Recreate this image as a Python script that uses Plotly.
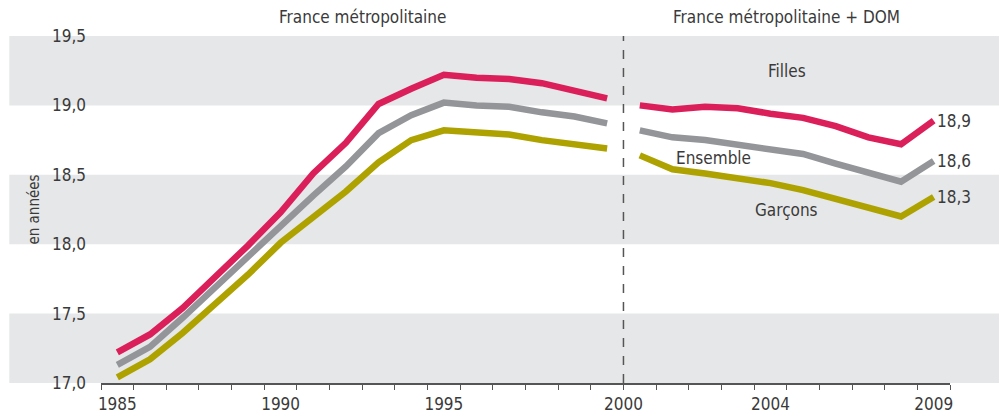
import plotly.graph_objects as go

# ---- data ----
years_metro = list(range(1985, 2001))            # France métropolitaine
years_dom = list(range(2000, 2010))              # France métropolitaine + DOM

filles_metro = [17.22, 17.35, 17.54, 17.76, 17.99, 18.23, 18.51, 18.73, 19.01, 19.12,
                19.22, 19.20, 19.19, 19.16, 19.11, 19.05]
ensemble_metro = [17.13, 17.26, 17.47, 17.69, 17.92, 18.13, 18.35, 18.56, 18.80, 18.93,
                  19.02, 19.00, 18.99, 18.95, 18.92, 18.87]
garcons_metro = [17.04, 17.17, 17.36, 17.57, 17.78, 18.01, 18.20, 18.38, 18.59, 18.75,
                 18.82, 18.80, 18.79, 18.75, 18.72, 18.69]

filles_dom = [19.00, 18.97, 18.99, 18.98, 18.94, 18.91, 18.85, 18.77, 18.72, 18.89]
ensemble_dom = [18.82, 18.77, 18.75, 18.72, 18.68, 18.65, 18.58, 18.51, 18.45, 18.60]
garcons_dom = [18.64, 18.54, 18.51, 18.48, 18.44, 18.39, 18.33, 18.26, 18.20, 18.34]

series_names = ["Filles", "Ensemble", "Garçons"]
series_colors = ["#DA1F5A", "#939598", "#AEA200"]
end_labels = ["18,9", "18,6", "18,3"]
tick_years = [1985, 1990, 1995, 2000, 2004, 2009]
headers = ["France métropolitaine", "France métropolitaine + DOM"]

# category positions (one slot per year, 2000 appears in both periods)
categories = [("m", y) for y in years_metro] + [("d", y) for y in years_dom]
pos = {c: i for i, c in enumerate(categories)}
x_metro = [pos[("m", y)] for y in years_metro]
x_dom = [pos[("d", y)] for y in years_dom]
n = len(categories)
boundary = (x_metro[-1] + x_dom[0]) / 2

def tick_pos(y):
    if y == 2000:
        return boundary
    if ("m", y) in pos:
        return pos[("m", y)]
    return pos[("d", y)]

FONT = "Liberation Sans Narrow, DejaVu Sans Condensed, Arial Narrow, sans-serif"
TXT = "#3a3a3a"

fig = go.Figure()
metro = [filles_metro, ensemble_metro, garcons_metro]
dom = [filles_dom, ensemble_dom, garcons_dom]
for name, col, m, d in zip(series_names, series_colors, metro, dom):
    fig.add_trace(go.Scatter(x=x_metro, y=m, mode="lines", name=name,
                             line=dict(color=col, width=6.5), showlegend=False,
                             hoverinfo="skip"))
    fig.add_trace(go.Scatter(x=x_dom, y=d, mode="lines", name=name,
                             line=dict(color=col, width=6.5), showlegend=False,
                             hoverinfo="skip"))

# background bands
for lo in [17.0, 18.0, 19.0]:
    fig.add_shape(type="rect", xref="paper", yref="y", x0=-0.108, x1=1.06,
                  y0=lo, y1=lo + 0.5, fillcolor="#E6E7E8", line_width=0, layer="below")

# dashed separator
fig.add_shape(type="line", xref="x", yref="paper", x0=boundary, x1=boundary, y0=0, y1=1,
              line=dict(color="#555555", width=1.5, dash="dash"))

# headers
fig.add_annotation(x=(x_metro[0] + x_metro[-1]) / 2, y=1.02, xref="x", yref="paper",
                   text=headers[0], showarrow=False, yanchor="bottom",
                   font=dict(family=FONT, size=17, color=TXT))
fig.add_annotation(x=(x_dom[0] + x_dom[-1]) / 2, y=1.02, xref="x", yref="paper",
                   text=headers[1], showarrow=False, yanchor="bottom",
                   font=dict(family=FONT, size=17, color=TXT))

# series labels
fig.add_annotation(x=(x_dom[0] + x_dom[-1]) / 2, y=19.245, text="Filles", showarrow=False,
                   font=dict(family=FONT, size=17, color=TXT))
fig.add_annotation(x=x_dom[2] + 0.25, y=18.62, text="Ensemble", showarrow=False,
                   font=dict(family=FONT, size=17, color=TXT))
fig.add_annotation(x=(x_dom[0] + x_dom[-1]) / 2, y=18.25, text="Garçons", showarrow=False,
                   font=dict(family=FONT, size=17, color=TXT))

# end labels
for lab, d in zip(end_labels, dom):
    fig.add_annotation(x=x_dom[-1], y=d[-1], text=lab, showarrow=False, xanchor="left",
                       xshift=1, font=dict(family=FONT, size=17, color=TXT))

# y title
fig.add_annotation(x=-0.08, y=0.5, xref="paper", yref="paper", text="en années",
                   textangle=-90, showarrow=False, xshift=-11,
                   font=dict(family=FONT, size=15, color=TXT))

fig.update_layout(
    width=999, height=416,
    margin=dict(l=101, r=49, t=36, b=33),
    paper_bgcolor="white", plot_bgcolor="rgba(0,0,0,0)",
    separators=", ",
    font=dict(family=FONT, size=17, color=TXT),
    xaxis=dict(range=[-0.5, n - 0.5], tickvals=[tick_pos(y) for y in tick_years],
               ticktext=[str(y) for y in tick_years], ticks="", showgrid=False,
               zeroline=False, showline=True, linecolor="#555555", linewidth=1.5,
               ticklabelstandoff=5, automargin=False,
               minor=dict(tick0=-0.5, dtick=1, ticks="outside", ticklen=5,
                          tickcolor="#555555", tickwidth=1.2, showgrid=False),
               tickfont=dict(family=FONT, size=17, color=TXT)),
    yaxis=dict(range=[17.0, 19.5], tickvals=[17.0, 17.5, 18.0, 18.5, 19.0, 19.5],
               tickformat=".1f", showgrid=False, zeroline=False, showline=False,
               ticks="", ticklabelstandoff=14, automargin=False,
               tickfont=dict(family=FONT, size=17, color=TXT)),
)

post = ("document.documentElement.style.margin='0';document.body.style.margin='0';"
        "document.body.style.padding='0';document.body.style.overflow='hidden';"
        "document.documentElement.style.overflow='hidden';")

fig.write_html("out.html", post_script=post,
               config={"responsive": False, "displayModeBar": False})
